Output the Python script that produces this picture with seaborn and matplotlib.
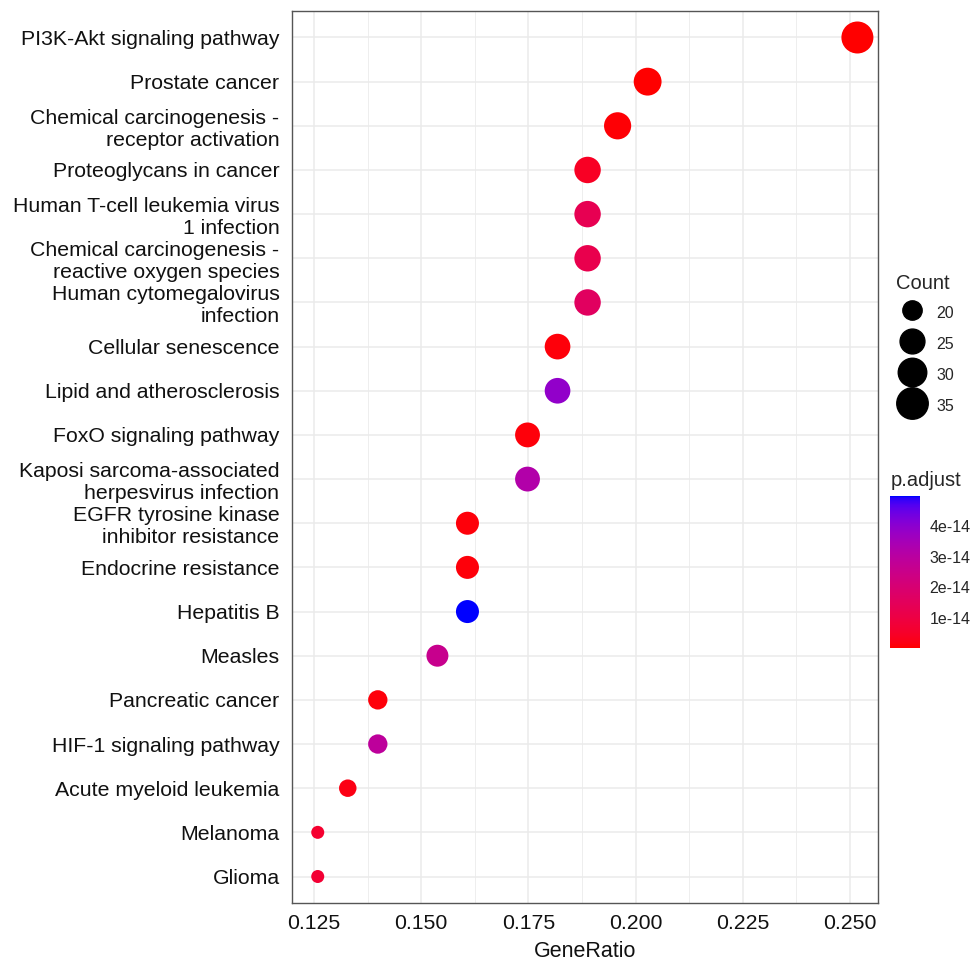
import numpy as np
import pandas as pd
import matplotlib
matplotlib.use("Agg")
import matplotlib.pyplot as plt
import matplotlib.ticker as mticker
from matplotlib.colors import ListedColormap, Normalize
from matplotlib.cm import ScalarMappable
from matplotlib.lines import Line2D
import seaborn as sns

# KEGG enrichment results, top row first
descriptions = [
    "PI3K-Akt signaling pathway",
    "Prostate cancer",
    "Chemical carcinogenesis -\nreceptor activation",
    "Proteoglycans in cancer",
    "Human T-cell leukemia virus\n1 infection",
    "Chemical carcinogenesis -\nreactive oxygen species",
    "Human cytomegalovirus\ninfection",
    "Cellular senescence",
    "Lipid and atherosclerosis",
    "FoxO signaling pathway",
    "Kaposi sarcoma-associated\nherpesvirus infection",
    "EGFR tyrosine kinase\ninhibitor resistance",
    "Endocrine resistance",
    "Hepatitis B",
    "Measles",
    "Pancreatic cancer",
    "HIF-1 signaling pathway",
    "Acute myeloid leukemia",
    "Melanoma",
    "Glioma",
]
gene_ratio = [0.2517, 0.2028, 0.1958, 0.1888, 0.1888, 0.1888, 0.1888, 0.1818,
              0.1818, 0.1748, 0.1748, 0.1608, 0.1608, 0.1608, 0.1538, 0.1399,
              0.1399, 0.1329, 0.1259, 0.1259]
counts = [36, 29, 28, 27, 27, 27, 27, 26, 26, 25, 25, 23, 23, 23, 22, 20, 20, 19, 18, 18]
p_adjust = [1e-16, 2e-16, 5e-16, 4e-15, 1.3e-14, 1.2e-14, 1.6e-14, 1e-15,
            3.9e-14, 1e-15, 3.2e-14, 1e-15, 1e-15, 5e-14, 2.6e-14, 1e-15,
            2.9e-14, 2e-15, 6e-15, 7e-15]

count_breaks = [20, 25, 30, 35]
padj_breaks = [1e-14, 2e-14, 3e-14, 4e-14]

df = pd.DataFrame({"Description": descriptions, "GeneRatio": gene_ratio,
                   "Count": counts, "p.adjust": p_adjust})


# red -> blue gradient interpolated in CIELAB, like ggplot's scale_colour_gradient
def srgb_to_lab(rgb):
    c = np.asarray(rgb, float)
    c = np.where(c <= 0.04045, c / 12.92, ((c + 0.055) / 1.055) ** 2.4)
    m = np.array([[0.4124, 0.3576, 0.1805],
                  [0.2126, 0.7152, 0.0722],
                  [0.0193, 0.1192, 0.9505]])
    xyz = m @ c / np.array([0.95047, 1.0, 1.08883])
    f = np.where(xyz > 0.008856, np.cbrt(xyz), 7.787 * xyz + 16 / 116)
    return np.array([116 * f[1] - 16, 500 * (f[0] - f[1]), 200 * (f[1] - f[2])])


def lab_to_srgb(lab):
    fy = (lab[0] + 16) / 116
    fx = fy + lab[1] / 500
    fz = fy - lab[2] / 200
    f = np.array([fx, fy, fz])
    xyz = np.where(f ** 3 > 0.008856, f ** 3, (f - 16 / 116) / 7.787)
    xyz = xyz * np.array([0.95047, 1.0, 1.08883])
    m = np.array([[3.2406, -1.5372, -0.4986],
                  [-0.9689, 1.8758, 0.0415],
                  [0.0557, -0.2040, 1.0570]])
    c = np.clip(m @ xyz, 0, 1)
    c = np.where(c <= 0.0031308, 12.92 * c, 1.055 * c ** (1 / 2.4) - 0.055)
    return np.clip(c, 0, 1)


lab_lo, lab_hi = srgb_to_lab([1, 0, 0]), srgb_to_lab([0, 0, 1])
cmap = ListedColormap([lab_to_srgb(lab_lo + (lab_hi - lab_lo) * t)
                       for t in np.linspace(0, 1, 256)])
norm = Normalize(vmin=min(p_adjust), vmax=max(p_adjust))


# ggplot area palette: diameter grows with sqrt of the rescaled count
def point_area(c, lo=min(counts), hi=max(counts), d_min=13.0, d_max=32.0):
    d_px = d_min + (d_max - d_min) * np.sqrt((c - lo) / (hi - lo))
    return (d_px * 0.72) ** 2


size_map = {c: point_area(c) for c in sorted(set(counts) | set(count_breaks))}

sns.set_style("white")
plt.rcParams["font.family"] = ["Liberation Sans", "DejaVu Sans"]

W, H = 973, 963
fig, ax = plt.subplots(figsize=(W / 100, H / 100), dpi=100)
fig.subplots_adjust(left=292 / W, right=878 / W, top=1 - 11 / H, bottom=1 - 903 / H)

sns.scatterplot(data=df, x="GeneRatio", y="Description", hue="p.adjust",
                palette=cmap, hue_norm=norm, size="Count", sizes=size_map,
                linewidth=0, legend=False, ax=ax, zorder=3)

ax.set_ylim(len(descriptions) - 0.4, -0.6)
ax.set_xlim(0.1199, 0.2565)
ax.xaxis.set_major_locator(mticker.MultipleLocator(0.025))
ax.xaxis.set_minor_locator(mticker.MultipleLocator(0.0125))
ax.xaxis.set_major_formatter(mticker.FormatStrFormatter("%.3f"))

ax.set_axisbelow(True)
ax.grid(True, which="major", color="#EBEBEB", linewidth=1.1)
ax.grid(True, which="minor", axis="x", color="#EBEBEB", linewidth=0.6)
for sp in ax.spines.values():
    sp.set_color("#555555")
    sp.set_linewidth(1.0)

ax.tick_params(axis="both", which="major", length=4, width=1.1, color="#333333",
               labelsize=15.3, labelcolor="#111111", pad=4)
ax.tick_params(axis="y", pad=5)
ax.tick_params(which="minor", length=0)
ax.set_xlabel("GeneRatio", fontsize=15.5, labelpad=6, color="#111111")
ax.set_ylabel("")

# size legend (black dots)
handles = [Line2D([], [], linestyle="", marker="o", color="black",
                  markersize=np.sqrt(size_map[c])) for c in count_breaks]
fig.legend(handles, [str(c) for c in count_breaks], title="Count",
           loc="upper left", bbox_to_anchor=(885 / W, 1 - 263 / H),
           frameon=False, fontsize=11.5, title_fontsize=14.5,
           alignment="left", handletextpad=0.5, handleheight=1.75,
           labelspacing=0.55, borderpad=0.2)

# colour bar for p.adjust
cax = fig.add_axes([890 / W, 1 - 648 / H, 30 / W, 152 / H])
cb = fig.colorbar(ScalarMappable(norm=norm, cmap=cmap), cax=cax)
cb.outline.set_visible(False)
cb.set_ticks(padj_breaks)
cb.set_ticklabels([f"{v:.0e}" for v in padj_breaks])
cb.minorticks_off()
cax.yaxis.set_ticks_position("both")
cax.tick_params(direction="in", color="white", length=6, width=1.4,
                labelleft=False, labelright=True, labelsize=11.5, pad=7)
fig.text(891 / W, 1 - 480 / H, "p.adjust", fontsize=14.5, va="center", ha="left")

fig.savefig("out.png", dpi=100)
